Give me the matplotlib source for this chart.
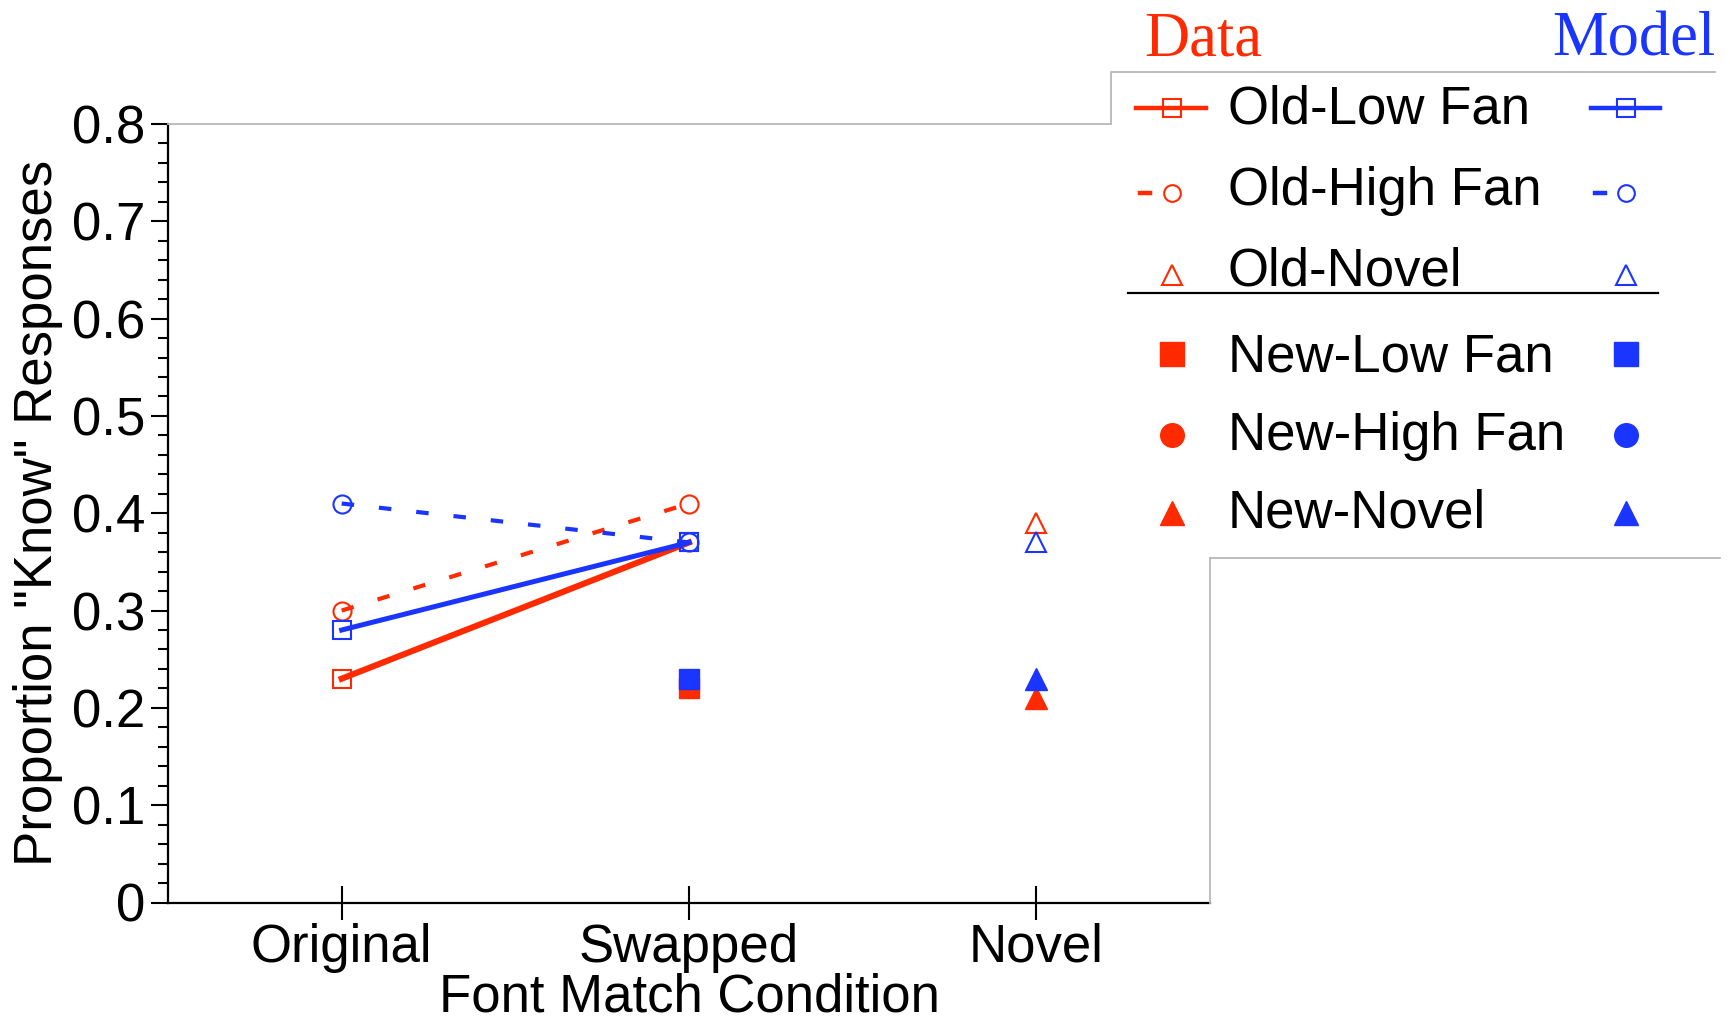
import numpy as np
import matplotlib.pyplot as plt
from matplotlib.ticker import MultipleLocator, FuncFormatter

plt.rcParams['font.family'] = ['Liberation Sans', 'DejaVu Sans']

conditions = ['Original', 'Swapped', 'Novel']
cond_x = [1, 2, 3]

# Data (red)
data_old_low = [0.23, 0.37]     # Original, Swapped
data_old_high = [0.30, 0.41]    # Original, Swapped
data_old_novel = [0.39]         # Novel
data_new_low = [0.22]           # Swapped
data_new_novel = [0.21]         # Novel

# Model (blue)
model_old_low = [0.28, 0.37]
model_old_high = [0.41, 0.37]
model_old_novel = [0.37]
model_new_low = [0.23]
model_new_novel = [0.23]

legend_labels = ['Old-Low Fan', 'Old-High Fan', 'Old-Novel',
                 'New-Low Fan', 'New-High Fan', 'New-Novel']

RED = '#ff2a00'
BLUE = '#1a35ff'
W, H = 1730, 1026

fig = plt.figure(figsize=(17.3, 10.26), dpi=100)
ax = fig.add_axes([168 / W, 1 - 902.5 / H, (1210 - 168) / W, (902.5 - 124) / H])

def draw(color, old_low, old_high, old_novel, new_low, new_novel, lw):
    ax.plot(cond_x[:2], old_low, color=color, lw=lw, marker='s', ms=13,
            mfc='none', mec=color, mew=1.5)
    ax.plot(cond_x[:2], old_high, color=color, lw=3.0, ls=(0, (3, 6)),
            marker='o', ms=13, mfc='none', mec=color, mew=1.5)
    ax.plot([cond_x[2]], old_novel, ls='none', marker='^', ms=14,
            mfc='none', mec=color, mew=1.5)
    ax.plot([cond_x[1]], new_low, ls='none', marker='s', ms=15,
            color=color)
    ax.plot([cond_x[2]], new_novel, ls='none', marker='^', ms=16,
            color=color)

draw(RED, data_old_low, data_old_high, data_old_novel, data_new_low, data_new_novel, 4.4)
draw(BLUE, model_old_low, model_old_high, model_old_novel, model_new_low, model_new_novel, 3.6)

ax.set_xlim(0.5, 3.5)
ax.set_ylim(0, 0.8)
ax.set_xticks(cond_x)
ax.set_xticklabels(conditions)
ax.yaxis.set_major_locator(MultipleLocator(0.1))
ax.yaxis.set_minor_locator(MultipleLocator(0.02))
ax.yaxis.set_major_formatter(FuncFormatter(lambda v, p: '0' if abs(v) < 1e-9 else f'{v:.1f}'))
ax.tick_params(axis='y', which='major', length=12.5, width=1.5, labelsize=38, pad=4)
ax.tick_params(axis='y', which='minor', length=7, width=1.5)
ax.tick_params(axis='x', which='major', direction='inout', length=25, width=1.5,
               labelsize=38, pad=2)
for s in ['top', 'right']:
    ax.spines[s].set_visible(False)
for s in ['left', 'bottom']:
    ax.spines[s].set_linewidth(1.6)
ax.set_xlabel('Font Match Condition', fontsize=38, labelpad=0)
ax.set_ylabel('Proportion "Know" Responses', fontsize=38, labelpad=6)

# overlay for frame lines and legend
ov = fig.add_axes([0, 0, 1, 1], zorder=5)
ov.set_xlim(0, W)
ov.set_ylim(H, 0)
ov.axis('off')
ov.patch.set_alpha(0)

gray = '#b8b8b8'
ov.plot([168, 1111], [124, 124], color=gray, lw=1.3)
ov.plot([1210, 1210], [558, 902.5], color=gray, lw=1.3)
ov.plot([1111, 1111, 1715], [124, 72, 72], color=gray, lw=1.3)
ov.plot([1210, 1720], [558, 558], color=gray, lw=1.3)

text_base = [124, 205, 286, 371, 450, 527]
mark_y = [108, 193, 275, 354, 435, 513]
for lab, yb in zip(legend_labels, text_base):
    ov.text(1228, yb, lab, fontsize=38, va='baseline', ha='left')

for color, xm, x0, x1, xd in [(RED, 1172, 1136, 1206, 1145), (BLUE, 1626, 1591, 1660, 1600)]:
    ov.plot([x0, x1], [mark_y[0]] * 2, color=color, lw=3.2)
    ov.plot([xm], [mark_y[0]], marker='s', ms=13, mfc='none', mec=color, mew=1.5)
    ov.plot([xd - 5, xd + 5], [mark_y[1]] * 2, color=color, lw=3.2)
    ov.plot([xm], [mark_y[1]], marker='o', ms=12, mfc='none', mec=color, mew=1.5)
    ov.plot([xm], [mark_y[2]], marker='^', ms=14, mfc='none', mec=color, mew=1.5)
    ov.plot([xm], [mark_y[3]], marker='s', ms=17, color=color)
    ov.plot([xm], [mark_y[4]], marker='o', ms=17, color=color)
    ov.plot([xm], [mark_y[5]], marker='^', ms=17, color=color)

ov.plot([1128, 1658], [293, 293], color='black', lw=1.6)

ov.text(1144, 55, 'Data', fontsize=45, color=RED, family=['Liberation Serif', 'DejaVu Serif'],
        va='baseline', ha='left')
ov.text(1552, 55, 'Model', fontsize=45, color=BLUE, family=['Liberation Serif', 'DejaVu Serif'],
        va='baseline', ha='left')

fig.savefig('out.png', dpi=100)
